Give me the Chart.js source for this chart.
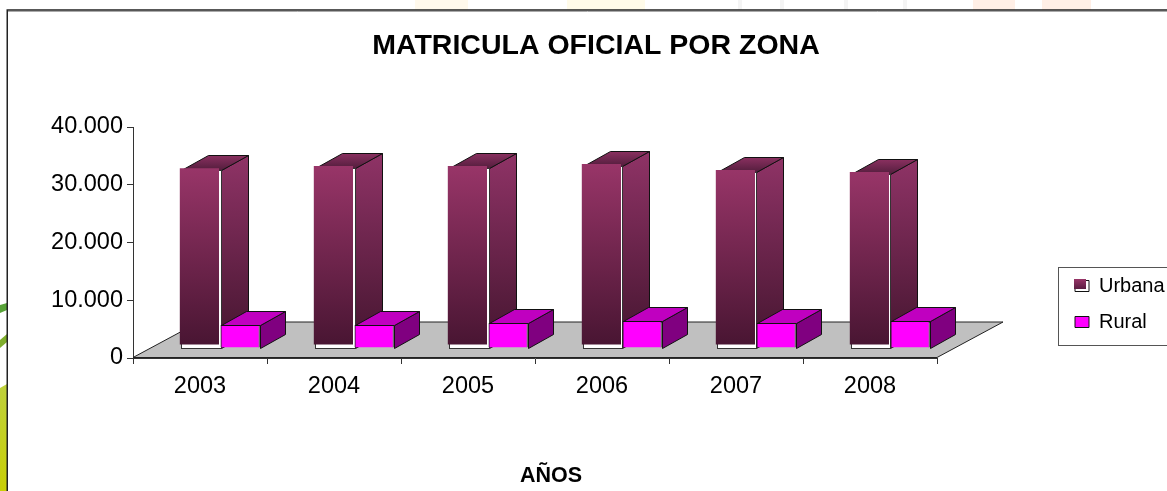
<!DOCTYPE html>
<html><head><meta charset="utf-8">
<style>html,body{margin:0;padding:0;background:#fff;overflow:hidden}#w{position:absolute;left:0;top:0;width:1167px;height:491px}</style>
<script src="https://cdn.jsdelivr.net/npm/chart.js@4"></script>
</head><body><div id="w"><canvas id="c" width="1167" height="491"></canvas></div>
<script>
const categories = ['2003','2004','2005','2006','2007','2008'];
const urbana = [30800,31150,31150,31500,30480,30130];
const rural = [3980,3980,4330,4680,4330,4680];
const yTicks = [0,10000,20000,30000,40000];
const FONT = '"Liberation Sans", Arial, sans-serif';
const DX = 20.5, DY = -10;
const URB_DEPTH = [27,-15], RUR_DEPTH = [25,-14];

function grad(ctx, y0, y1, top, bottom){
  const g = ctx.createLinearGradient(0,y0,0,y1);
  g.addColorStop(0,top); g.addColorStop(1,bottom); return g;
}
function poly(ctx, pts, fill, stroke){
  ctx.beginPath(); pts.forEach((p,i)=> i?ctx.lineTo(p[0],p[1]):ctx.moveTo(p[0],p[1])); ctx.closePath();
  if(fill){ctx.fillStyle=fill;ctx.fill();}
  if(stroke){ctx.strokeStyle=stroke;ctx.lineWidth=1;ctx.stroke();}
}
function urbanaFill(c){
  if(c.type!=='data'||!c.chart.scales.y) return '#8f3366';
  const s=c.chart.scales.y;
  return grad(c.chart.ctx,s.getPixelForValue(c.parsed?c.parsed.y:30000),s.getPixelForValue(0),'#983568','#481532');
}

const scene = {
  id:'scene',
  beforeDraw(chart){
    const x=chart.ctx;
    x.save();
    x.fillStyle='#fff';x.fillRect(0,0,1167,491);
    const g=x.createLinearGradient(0,385,0,491);
    g.addColorStop(0,'#bfd13c');g.addColorStop(1,'#c9cf05');
    x.fillStyle=g;x.beginPath();x.moveTo(0,388);x.lineTo(7,384);x.lineTo(7,491);x.lineTo(0,491);x.closePath();x.fill();
    x.fillStyle='#58a338';x.beginPath();x.moveTo(0,305);x.lineTo(7,303);x.lineTo(7,310);x.lineTo(0,313);x.closePath();x.fill();
    x.fillStyle='#7fae2c';x.beginPath();x.moveTo(0,340);x.lineTo(7,334);x.lineTo(7,342);x.lineTo(0,348);x.closePath();x.fill();
    [[415,468,'#fff9ec'],[567,645,'#fffbe9'],[738,742,'#f4f4f4'],[780,784,'#f4f4f4'],[844,848,'#f4f4f4'],[903,907,'#f4f4f4'],[973,1015,'#ffefe6'],[1042,1091,'#ffefe6']].forEach(b=>{x.fillStyle=b[2];x.fillRect(b[0],0,b[1]-b[0],10);});
    x.fillStyle='#fff';x.fillRect(7,10,1160,481);
    x.strokeStyle='#222';x.lineWidth=1.5;
    x.beginPath();x.moveTo(7.25,491);x.lineTo(7.25,10);x.lineTo(1167,10);x.stroke();
    x.strokeStyle='#aaa';x.lineWidth=1;x.beginPath();x.moveTo(8,11.5);x.lineTo(1167,11.5);x.stroke();
    x.fillStyle='#fff';x.fillRect(1058.5,267.5,112,78);
    x.strokeStyle='#555';x.lineWidth=1;x.strokeRect(1058.5,267.5,112,78);
    x.restore();
  },
  afterLayout(chart){
    const l=chart.legend;
    if(l){ const pad=l.options.labels.padding; l.left=1075-pad; l.right=l.left+200; l.top=276-pad; l.bottom=l.top+200; }
    const t=chart.titleBlock;
    if(t){ t.left=596-300; t.right=596+300; }
    const xs=chart.scales.x;
    if(!xs._shifted){
      xs._shifted=true;
      const base=xs.drawTitle;
      xs.drawTitle=function(){
        const a=this.left,b=this.right;
        this.left=a+16;this.right=b+16;
        base.call(this);
        this.left=a;this.right=b;
      };
    }
  },
  beforeDatasetsDraw(chart){
    const x=chart.ctx, ca=chart.chartArea, y0=chart.scales.y.getPixelForValue(0);
    x.save();
    poly(x,[[ca.left,y0-.5],[ca.right,y0-.5],[ca.right+66,y0-36],[ca.left+66,y0-36]],'#c0c0c0','#222');
    const meta=chart.getDatasetMeta(0);
    const [dx,dy]=URB_DEPTH;
    meta.data.forEach(b=>{
      const L=Math.round(b.x-b.width/2+DX)+.5, R=Math.round(b.x+b.width/2+DX)+.5, T=Math.round(b.y+DY)+.5, B=Math.round(y0+DY)+.5;
      poly(x,[[R,T],[R+dx,T+dy],[R+dx,B+dy],[R,B]],grad(x,T+dy,B,'#8f3366','#44152f'),'#111');
      poly(x,[[L,T],[L+dx,T+dy],[R+dx,T+dy],[R,T]],grad(x,T+dy,T,'#8a3060','#521d3c'),'#111');
      x.fillStyle='#fff';x.fillRect(L,T,R-L,B-T);
      x.strokeStyle='#333';x.lineWidth=1;x.strokeRect(L,T,R-L,B-T);
    });
    x.restore();
  },
  beforeDatasetDraw(chart,args){
    const x=chart.ctx,y0=chart.scales.y.getPixelForValue(0);
    if(args.index===1){
      const [dx,dy]=RUR_DEPTH;
      x.save();
      args.meta.data.forEach(b=>{
        const L=Math.round(b.x-b.width/2+DX)+.5, R=Math.round(b.x+b.width/2+DX)+.5, T=Math.round(b.y+DY)+.5, B=Math.round(y0+DY)+.5;
        poly(x,[[R,T],[R+dx,T+dy],[R+dx,B+dy],[R,B]],'#800080','#111');
        poly(x,[[L,T],[L+dx,T+dy],[R+dx,T+dy],[R,T]],'#c000c0','#111');
      });
      x.restore();
    }
    x.save();
    if(args.index===0) x.translate(DX-1.5,DY-2); else x.translate(DX,DY);
  },
  afterDatasetDraw(chart){ chart.ctx.restore(); },
  afterDraw(chart){
    const l=chart.legend; if(!l) return;
    const pad=l.options.labels.padding, x=chart.ctx, X=l.left+pad, Y=l.top+pad;
    x.save();
    x.fillStyle=grad(x,Y+3,Y+13,'#983568','#5a1e42');
    x.fillRect(X-1,Y+3,12,10);
    x.restore();
  }
};

new Chart(document.getElementById('c'),{
  type:'bar',
  data:{labels:categories,datasets:[
    {label:'Urbana',data:urbana,backgroundColor:urbanaFill,borderWidth:0,base:260,clip:false},
    {label:'Rural',data:rural,backgroundColor:'#ff00ff',borderColor:'#111',borderWidth:1,clip:false}
  ]},
  options:{
    responsive:false,animation:false,
    layout:{padding:{left:10,top:10,right:230,bottom:2}},
    datasets:{bar:{barPercentage:1,categoryPercentage:.585}},
    plugins:{
      tooltip:{enabled:false},
      title:{display:true,text:'MATRICULA OFICIAL POR ZONA',color:'#000',
        font:{family:FONT,size:28.5,weight:'bold',lineHeight:1.2},padding:{top:19,bottom:63.8}},
      legend:{display:true,position:'chartArea',align:'start',labels:{color:'#000',font:{family:FONT,size:20},boxWidth:14,boxHeight:11,padding:16,
        generateLabels(chart){
          return chart.data.datasets.map((d,i)=>({text:d.label,datasetIndex:i,
            fillStyle:i===0?'#fff':'#ff00ff',strokeStyle:'#111',lineWidth:1,hidden:false,fontColor:'#000'}));
        }}}
    },
    scales:{
      x:{grid:{drawOnChartArea:false,offset:true,tickLength:6,color:'#333',tickColor:'#333'},
        border:{color:'#333'},
        ticks:{color:'#000',font:{family:FONT,size:23.5},padding:8,maxRotation:0},
        title:{display:true,text:'AÑOS',color:'#000',font:{family:FONT,size:21.5,weight:'bold'},padding:{top:0,bottom:0}},
        afterFit(s){s.height=131;}},
      y:{min:0,max:40000,
        afterBuildTicks(s){s.ticks=yTicks.map(v=>({value:v}));},
        afterFit(s){s.width=123;},
        grid:{drawOnChartArea:false,tickLength:6,color:'#333',tickColor:'#333'},
        border:{color:'#333'},
        ticks:{color:'#000',font:{family:FONT,size:23.5},padding:4,
          callback:v=>String(v).replace(/\B(?=(\d{3})+$)/g,'.')}}
    }
  },
  plugins:[scene]
});
</script></body></html>
